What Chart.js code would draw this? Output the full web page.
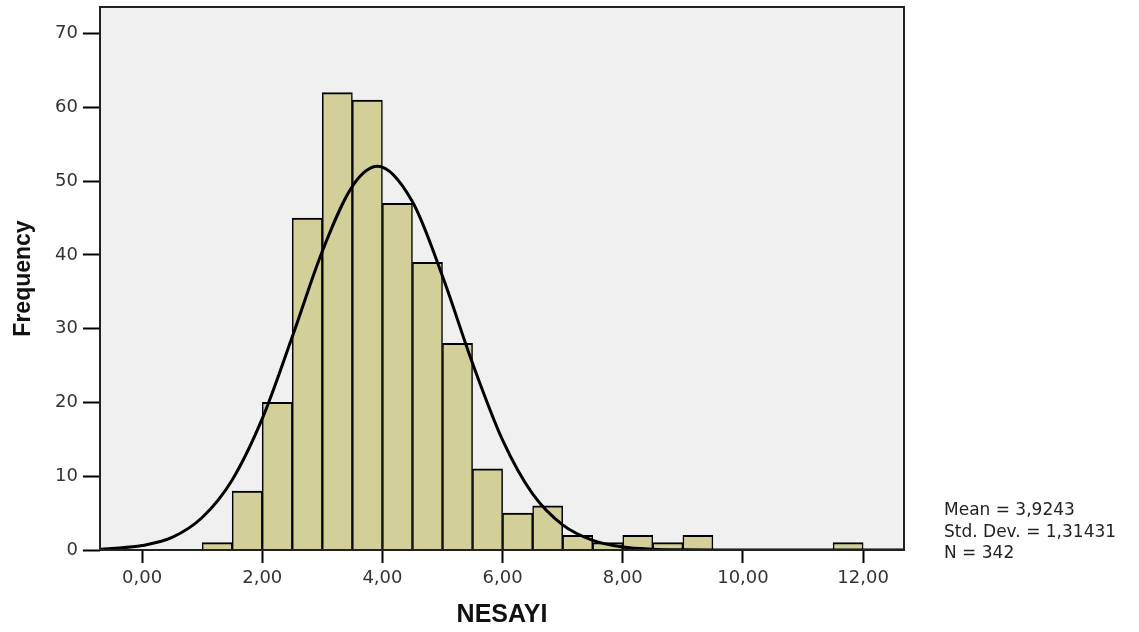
<!DOCTYPE html>
<html>
<head>
<meta charset="utf-8">
<title>NESAYI histogram</title>
<script src="https://cdn.jsdelivr.net/npm/chart.js@4"></script>
<style>
  html, body { margin: 0; padding: 0; background: #fff; }
  #wrap { width: 1139px; height: 632px; position: relative; }
</style>
</head>
<body>
<div id="wrap"><canvas id="histChart"></canvas></div>
<script>
// histogram bins (centre of each 0,5 wide bin) and counts
const binCenters = [1.25, 1.75, 2.25, 2.75, 3.25, 3.75, 4.25, 4.75, 5.25, 5.75, 6.25,
  6.75, 7.25, 7.75, 8.25, 8.75, 9.25, 9.75, 10.25, 10.75, 11.25, 11.75];
const binCounts = [1, 8, 20, 45, 62, 61, 47, 39, 28, 11, 5, 6, 2, 1, 2, 1, 2, 0, 0, 0, 0, 1];

// normal curve
const curveX = [-0.7, -0.5, 0, 0.5, 1, 1.5, 2, 2.5, 3, 3.5, 3.92, 4.5, 5, 5.5, 6, 6.5, 7, 7.5, 8, 8.5, 9, 9.5, 10, 12.7];
const curveY = [0.1, 0.2, 0.6, 1.7, 4.4, 9.5, 17.8, 28.9, 40.5, 49.3, 52, 47.2, 37.1, 25.3, 14.9, 7.6, 3.4, 1.3, 0.4, 0.1, 0.03, 0, 0, 0];

const xTicks = [0, 2, 4, 6, 8, 10, 12];
const yTicks = [0, 10, 20, 30, 40, 50, 60, 70];
const statLines = ["Mean = 3,9243", "Std. Dev. = 1,31431", "N = 342"];

const plotBg = {
  id: "plotBg",
  beforeDatasetsDraw(chart) {
    const { ctx, chartArea: a } = chart;
    ctx.save();
    ctx.fillStyle = "#f0f0f0";
    ctx.fillRect(a.left, a.top, a.right - a.left, a.bottom - a.top);
    ctx.restore();
  },
  afterDatasetsDraw(chart) {
    const { ctx, chartArea: a } = chart;
    ctx.save();
    ctx.strokeStyle = "#222";
    ctx.lineWidth = 2;
    ctx.strokeRect(a.left, a.top, a.right - a.left, a.bottom - a.top);
    ctx.restore();
  },
  afterDraw(chart) {
    const ctx = chart.ctx;
    ctx.save();
    ctx.fillStyle = "#222";
    ctx.font = "17px 'DejaVu Sans'";
    ctx.textBaseline = "middle";
    ctx.textAlign = "left";
    statLines.forEach((s, i) => ctx.fillText(s, 944, 511 + i * 21.5));
    ctx.restore();
  }
};

const ctx = document.getElementById("histChart");
new Chart(ctx, {
  type: "bar",
  data: {
    datasets: [
      {
        type: "line",
        data: curveX.map((x, i) => ({ x: x, y: curveY[i] })),
        borderColor: "#000",
        borderWidth: 3,
        pointRadius: 0,
        cubicInterpolationMode: "monotone",
        fill: false,
        order: 0
      },
      {
        type: "bar",
        data: binCenters.map((x, i) => ({ x: x, y: binCounts[i] })),
        backgroundColor: "#d3cf99",
        borderColor: "#000",
        borderWidth: { top: 2, left: 1.5, right: 1.5, bottom: 0 },
        borderSkipped: false,
        barPercentage: 1,
        categoryPercentage: 1,
        order: 1
      }
    ]
  },
  options: {
    responsive: true,
    maintainAspectRatio: false,
    animation: false,
    layout: { padding: { top: 7, right: 235, left: 0, bottom: 0 } },
    plugins: {
      legend: { display: false },
      tooltip: { enabled: false }
    },
    scales: {
      x: {
        type: "linear",
        min: -0.7,
        max: 12.68,
        offset: false,
        afterBuildTicks: (s) => { s.ticks = xTicks.map(v => ({ value: v })); },
        afterFit: (s) => { s.height = 82; s.paddingLeft = 0; s.paddingRight = 0; },
        grid: { drawOnChartArea: false, drawTicks: true, tickLength: 13, tickColor: "#000", tickWidth: 2, offset: false },
        border: { display: false },
        ticks: {
          autoSkip: false,
          maxRotation: 0,
          padding: 5,
          color: "#333",
          font: { family: "DejaVu Sans", size: 18 },
          callback: (v) => Number(v).toFixed(2).replace(".", ",")
        },
        title: {
          display: true,
          text: "NESAYI",
          color: "#111",
          font: { family: "Liberation Sans", size: 25, weight: "bold" },
          padding: { top: 0, bottom: 2 }
        }
      },
      y: {
        min: 0,
        max: 73.6,
        afterBuildTicks: (s) => { s.ticks = yTicks.map(v => ({ value: v })); },
        afterFit: (s) => { s.width = 100; s.paddingTop = 0; s.paddingBottom = 0; },
        grid: { drawOnChartArea: false, drawTicks: true, tickLength: 17, tickColor: "#000", tickWidth: 2 },
        border: { display: false },
        ticks: {
          padding: 5,
          color: "#333",
          font: { family: "DejaVu Sans", size: 18 }
        },
        title: {
          display: true,
          text: "Frequency",
          color: "#111",
          font: { family: "Liberation Sans", size: 23, weight: "bold" },
          padding: { top: 10, bottom: 0 }
        }
      }
    }
  },
  plugins: [plotBg]
});
</script>
</body>
</html>
